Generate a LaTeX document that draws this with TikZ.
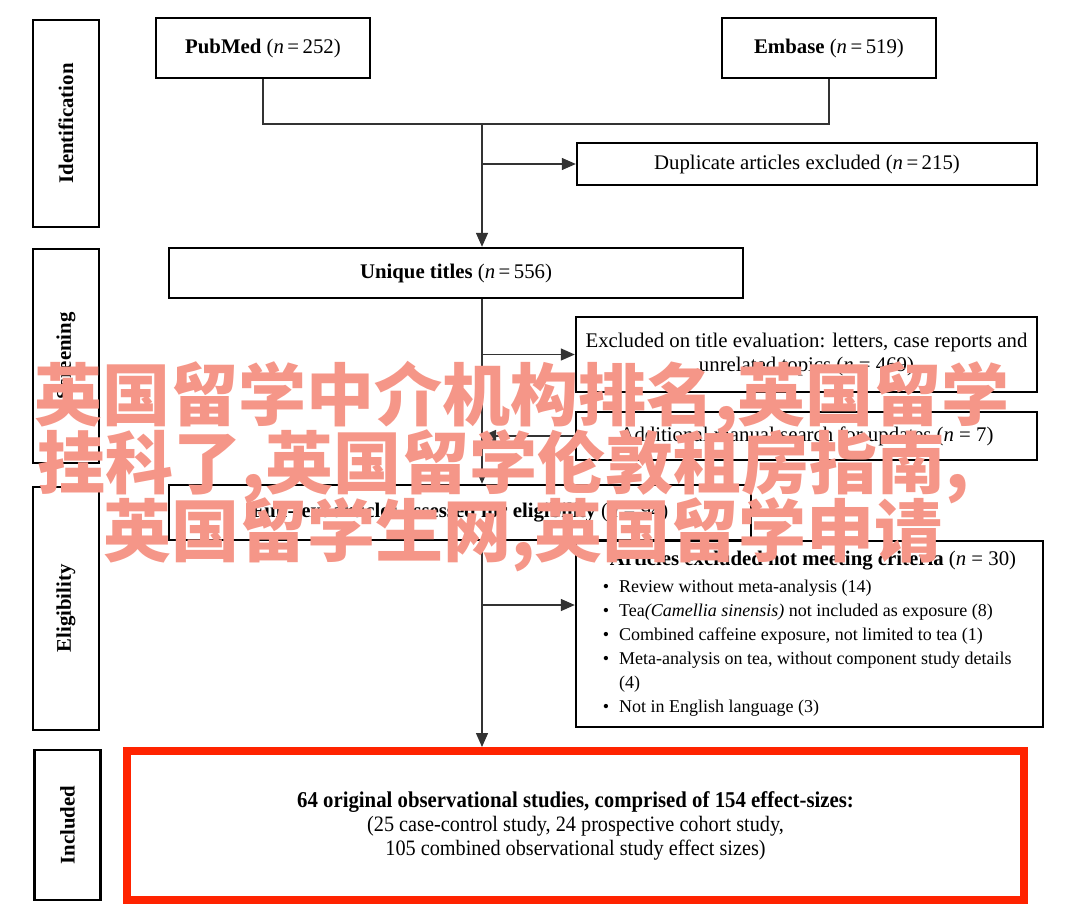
\documentclass[tikz,border=0pt]{standalone}
\usepackage{fontspec}
\setmainfont{Liberation Serif}
\newfontfamily\cjk{Noto Sans CJK SC}
\newfontfamily\narrow{Liberation Serif}[FakeStretch=0.92]
\usetikzlibrary{arrows.meta}
\definecolor{wmark}{RGB}{245,150,136}
\definecolor{inclred}{RGB}{255,35,0}

\begin{document}
\begin{tikzpicture}[x=0.5pt, y=-0.5pt, >={Triangle[length=7pt,width=6pt]},
    box/.style={draw, line width=1.2pt, inner sep=2pt, font=\fontsize{10.4}{12}\selectfont},
    phase/.style={draw, line width=1.2pt, rotate=90, minimum height=33pt, font=\fontsize{10.4}{12}\selectfont\bfseries},
    flow/.style={line width=0.7pt, draw=black!80},
    wm/.style={text=wmark, inner sep=0pt, font=\cjk\bfseries\fontsize{34}{34}\selectfont}]
      \useasboundingbox (0,0) rectangle (1080,915);

      \node[phase, minimum width=103.5pt] (ident) at (66,123.5) {Identification};
      \node[phase, minimum width=107pt] (screen) at (66,356) {Screening};
      \node[phase, minimum width=121.5pt] (elig) at (66,608.5) {Eligibility};
      \node[phase, minimum width=75pt] (incl) at (67.5,825) {Included};

      \node[box, minimum width=107pt, minimum height=30pt] (pubmed) at (263,48) {\textbf{PubMed} (\textit{n}\,=\,252)};
      \node[box, minimum width=107pt, minimum height=30pt] (embase) at (829,48) {\textbf{Embase} (\textit{n}\,=\,519)};
      \coordinate (join) at (482,124);
      \node[box, minimum width=230pt, minimum height=21pt] (dup) at (807,164) {Duplicate articles excluded (\textit{n}\,=\,215)};
      \node[box, minimum width=287pt, minimum height=25pt] (unique) at (456,273) {\textbf{Unique titles} (\textit{n}\,=\,556)};
      \node[box, minimum width=230.5pt, minimum height=37.5pt, align=center] (excl) at (806.5,354.5) {Excluded on title evaluation: letters, case reports and\\unrelated topics (\textit{n} = 469)};
      \node[box, minimum width=230.5pt, minimum height=24pt] (addl) at (806.5,436) {Additional manual search for updates (\textit{n} = 7)};
      \node[box, minimum width=291pt, minimum height=27.5pt] (full) at (460,512.5) {\textbf{Full-text articles assessed for eligibility} (\textit{n} = 94)};
      \node[box, minimum width=233.5pt, minimum height=93pt, font=\fontsize{9}{12}\selectfont] (crit) at (809.5,634) {\begin{tabular}{@{}l@{\hspace{5pt}}l@{}}
        \multicolumn{2}{@{\hspace{3.5pt}}l@{}}{\fontsize{10.4}{12}\selectfont\textbf{Articles excluded not meeting criteria} (\textit{n} = 30)}\\[1.5pt]
        \textbullet & Review without meta-analysis (14)\\
        \textbullet & Tea\textit{(Camellia sinensis)} not included as exposure (8)\\
        \textbullet & Combined caffeine exposure, not limited to tea (1)\\
        \textbullet & Meta-analysis on tea, without component study details\\
         & (4)\\
        \textbullet & Not in English language (3)
      \end{tabular}};
      \node[box, draw=inclred, line width=4pt, minimum width=448.5pt, minimum height=74.5pt, align=center, font=\narrow\fontsize{11}{12}\selectfont] (result) at (575.5,825.5) {{\fontsize{11.3}{12}\selectfont\textbf{64 original observational studies, comprised of 154 effect-sizes:}}\\(25 case-control study, 24 prospective cohort study,\\105 combined observational study effect sizes)};
      \coordinate (critjoin) at (482,605);

      \draw[flow] (pubmed) |- (join);
      \draw[flow] (embase) |- (join);
      \draw[flow, ->] (join) -- (join |- unique.north);
      \draw[flow, ->] (join |- dup.west) -- (dup.west);
      \draw[flow, ->] (join |- unique.south) -- (join |- full.north);
      \draw[flow, ->] (join |- excl.west) -- (excl.west);
      \draw[flow, ->] (addl.west) -- (join |- addl.west);
      \draw[flow, ->] (critjoin) -- (critjoin -| crit.west);
      \draw[flow, ->] (join |- full.south) -- (join |- result.north);

      \node[wm] (wm1) at (522,399) {英国留学中介机构排名,英国留学};
      \node[wm] (wm2) at (503,467) {挂科了,英国留学伦敦租房指南,};
      \node[wm] (wm3) at (523,535) {英国留学生网,英国留学申请};
    \end{tikzpicture}
\end{document}
